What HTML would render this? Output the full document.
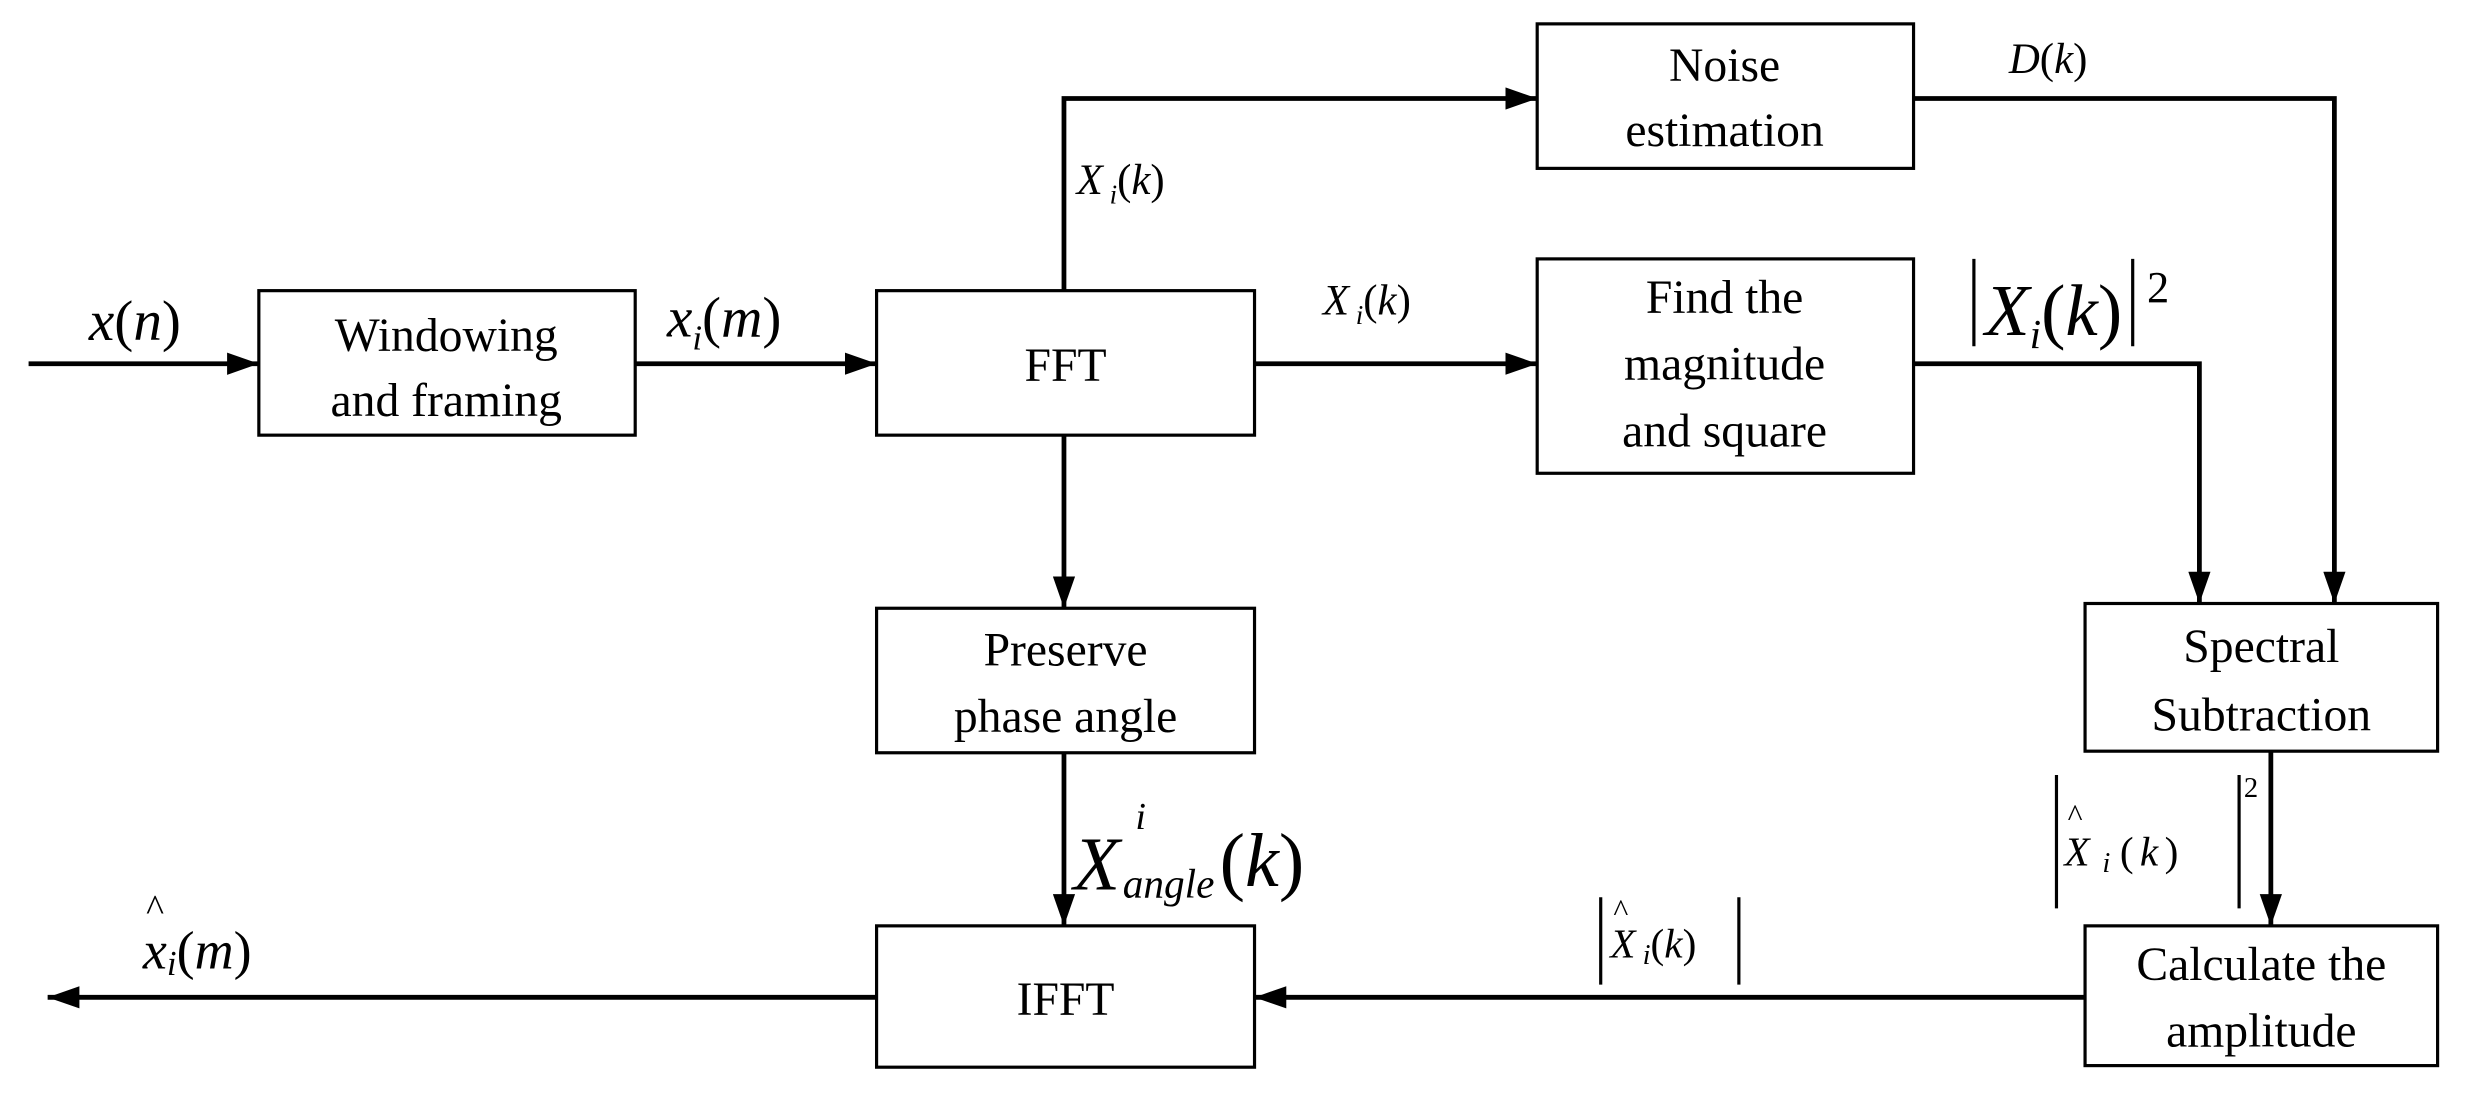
<!DOCTYPE html>
<html><head><meta charset="utf-8"><style>
html,body{margin:0;padding:0;background:#fff;}
svg{display:block;}
text{font-family:"Liberation Serif",serif;fill:#000;}
.b{font-size:30px;text-anchor:middle;}
.i{font-style:italic;}
</style></head><body>
<svg width="2490" height="1099" viewBox="0 0 1568 692" xmlns="http://www.w3.org/2000/svg">
<defs><marker id="a" markerWidth="10" markerHeight="8" refX="10" refY="4" orient="auto" markerUnits="userSpaceOnUse"><path d="M0,0 L22,0" /></marker>
<marker id="ar" viewBox="0 0 20 14" refX="20" refY="7" markerWidth="20" markerHeight="14" orient="auto" markerUnits="userSpaceOnUse"><path d="M0,0 L20,7 L0,14 z" fill="#000"/></marker></defs>
<g fill="none" stroke="#000" stroke-width="2">
<rect x="163" y="183" width="237" height="91"/>
<rect x="552" y="183" width="238" height="91"/>
<rect x="968" y="15" width="237" height="91"/>
<rect x="968" y="163" width="237" height="135"/>
<rect x="552" y="383" width="238" height="91"/>
<rect x="1313" y="380" width="222" height="93"/>
<rect x="1313" y="583" width="222" height="88"/>
<rect x="552" y="583" width="238" height="89"/>
<g stroke-width="3">
<path d="M18,229 H163" marker-end="url(#ar)"/>
<path d="M400,229 H552" marker-end="url(#ar)"/>
<path d="M670,183 V62 H968" marker-end="url(#ar)"/>
<path d="M790,229 H968" marker-end="url(#ar)"/>
<path d="M1205,62 H1470 V380" marker-end="url(#ar)"/>
<path d="M1205,229 H1385 V380" marker-end="url(#ar)"/>
<path d="M670,274 V383" marker-end="url(#ar)"/>
<path d="M670,474 V583" marker-end="url(#ar)"/>
<path d="M1430,473 V583" marker-end="url(#ar)"/>
<path d="M1313,628 H790" marker-end="url(#ar)"/>
<path d="M552,628 H30" marker-end="url(#ar)"/>
</g>
<g stroke-width="2">
<path d="M1243,163 V218 M1343,163 V218"/>
<path d="M1008,565 V620 M1095,565 V620"/>
<path d="M1295,488 V572 M1410,488 V572"/>
</g>
</g>
<text class="b" x="281" y="221">Windowing</text>
<text class="b" x="281" y="262">and framing</text>
<text class="b" x="671" y="240">FFT</text>
<text class="b" x="1086" y="51">Noise</text>
<text class="b" x="1086" y="92">estimation</text>
<text class="b" x="1086" y="197">Find the</text>
<text class="b" x="1086" y="239">magnitude</text>
<text class="b" x="1086" y="281">and square</text>
<text class="b" x="671" y="419">Preserve</text>
<text class="b" x="671" y="461">phase angle</text>
<text class="b" x="1424" y="417">Spectral</text>
<text class="b" x="1424" y="460">Subtraction</text>
<text class="b" x="1424" y="617">Calculate the</text>
<text class="b" x="1424" y="659">amplitude</text>
<text class="b" x="671" y="639">IFFT</text>
<text x="56" y="214" font-size="36"><tspan class="i">x</tspan>(<tspan class="i">n</tspan>)</text>
<text x="420" y="212" font-size="36"><tspan class="i">x</tspan><tspan class="i" font-size="22" dy="8">i</tspan><tspan dy="-8">(</tspan><tspan class="i">m</tspan>)</text>
<text x="678" y="122" font-size="27"><tspan class="i">X</tspan><tspan class="i" font-size="17" dy="6"> i</tspan><tspan dy="-6">(</tspan><tspan class="i">k</tspan>)</text>
<text x="833" y="198" font-size="27"><tspan class="i">X</tspan><tspan class="i" font-size="17" dy="6"> i</tspan><tspan dy="-6">(</tspan><tspan class="i">k</tspan>)</text>
<text x="1265" y="46" font-size="27"><tspan class="i">D</tspan>(<tspan class="i">k</tspan>)</text>
<text x="1250" y="211" font-size="46"><tspan class="i">X</tspan><tspan class="i" font-size="26" dy="8">i</tspan><tspan dy="-8">(</tspan><tspan class="i">k</tspan>)</text>
<text x="1352" y="190" font-size="28">2</text>
<text x="676" y="560" font-size="48" class="i">X</text>
<text x="715" y="522" font-size="24" class="i">i</text>
<text x="707" y="565" font-size="26" class="i">angle</text>
<text x="768" y="558" font-size="48">(<tspan class="i">k</tspan>)</text>
<text x="1300" y="545" font-size="26"><tspan class="i">X</tspan><tspan class="i" font-size="18" dx="8" dy="4">i</tspan><tspan dx="6" dy="-4">(</tspan><tspan class="i" dx="4">k</tspan><tspan dx="4">)</tspan></text>
<text x="1302" y="520" font-size="20">^</text>
<text x="1413" y="502" font-size="18">2</text>
<text x="1014" y="603" font-size="26"><tspan class="i">X</tspan><tspan class="i" font-size="18" dy="4"> i</tspan><tspan dy="-4">(</tspan><tspan class="i">k</tspan>)</text>
<text x="1016" y="580" font-size="20">^</text>
<text x="90" y="610" font-size="34"><tspan class="i">x</tspan><tspan class="i" font-size="22" dy="4">i</tspan><tspan dy="-4">(</tspan><tspan class="i">m</tspan>)</text>
<text x="92" y="580" font-size="24">^</text>
</svg>
</body></html>
